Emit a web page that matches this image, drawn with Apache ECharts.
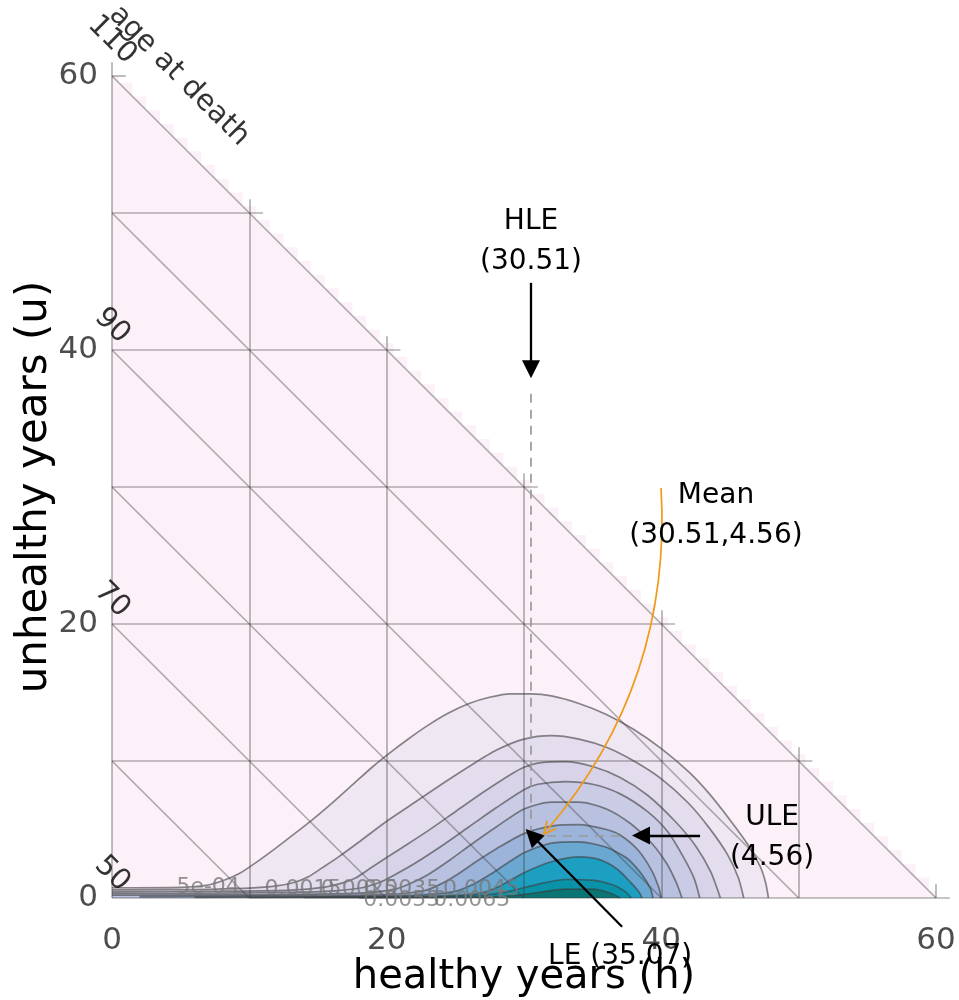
<!DOCTYPE html>
<html><head><meta charset="utf-8">
<script src="https://cdn.jsdelivr.net/npm/echarts@6/dist/echarts.min.js"></script>
<style>html,body{margin:0;padding:0;background:#fff}#c{width:959px;height:1000px}</style>
</head><body><div id="c"></div>
<script>
// ---------- data ----------
const maxYears = 60;
const tickValues = [0, 20, 40, 60];
const gridBreaks = [0, 10, 20, 30, 40, 50, 60];
const ageLines = [10, 20, 30, 40, 50, 60];
const ageLabels = [50, 70, 90, 110];
const ageOffset = 50;

// contour lines of the joint density (h, u), outer -> inner
const contour1 = [[0,0.75],[5,0.78],[7,0.95],[8.3,1.35],[9.3,1.8],[10.5,2.6],[12,3.7],[13.3,4.7],[14.4,5.55],[16,6.9],[17.5,8.25],[19,9.6],[20.3,10.65],[21.7,11.7],[23,12.6],[24.5,13.5],[26,14.2],[27.5,14.65],[29,14.9],[30.5,14.9],[32,14.75],[34,14.2],[36,13.4],[38,12.3],[40,10.9],[42,9.2],[43.5,7.6],[45,5.7],[46.3,3.9],[47.2,2.3],[47.6,1.1],[47.8,0]];
const contour2 = [[0,0.6],[6,0.62],[10,0.72],[12,0.88],[13.3,1.15],[14.3,1.55],[15.3,2.2],[16.5,3.0],[18,4.1],[20,5.6],[22,6.95],[24,8.3],[26,9.6],[28,10.8],[30,11.6],[32,11.85],[34,11.6],[36,11.0],[38,10.0],[40,8.7],[42,6.9],[43.5,5.1],[44.8,3.2],[45.6,1.5],[46,0]];
const contour3 = [[0,0.45],[8,0.5],[13,0.58],[15.5,0.8],[16.8,1.1],[17.8,1.5],[19,2.3],[21,3.6],[23,4.9],[25,6.3],[27,7.7],[29,9.0],[30,9.55],[31,9.85],[33,9.95],[35,9.6],[37,8.8],[39,7.5],[41,5.6],[42.5,3.8],[43.6,1.9],[44.3,0]];
const contour4 = [[0,0.32],[10,0.38],[15.5,0.48],[18.2,0.75],[19.5,1.15],[20.5,1.65],[22,2.5],[24,3.8],[26,5.2],[28,6.6],[30,7.9],[31,8.3],[33,8.5],[35,8.3],[37,7.6],[39,6.3],[40.5,4.8],[41.6,3.0],[42.4,1.4],[42.8,0]];
const contour5 = [[0,0.2],[12,0.25],[18,0.35],[20.6,0.65],[21.8,1.1],[23,1.7],[24.5,2.7],[26,3.8],[28,5.2],[30,6.5],[32,7.0],[34,7.0],[36,6.5],[37.8,5.4],[39.3,4.0],[40.4,2.5],[41.1,1.1],[41.5,0]];
const contour6 = [[2,0.1],[14,0.17],[20,0.25],[22.8,0.55],[24,1.05],[25.2,1.75],[26.5,2.65],[28,3.6],[30,4.7],[32,5.25],[34,5.35],[36,5.0],[37,4.6],[38.3,3.5],[39.3,2.0],[39.8,0.8],[40,0]];
const contour7 = [[6,0.05],[16,0.1],[22,0.2],[24.8,0.45],[26.2,0.95],[27.5,1.7],[28.8,2.55],[30,3.3],[32,4.0],[34,4.1],[36,3.7],[37.5,2.9],[38.6,1.7],[39.2,0.7],[39.4,0]];
const contour8 = [[10,0.03],[18,0.08],[24,0.15],[26.8,0.35],[28.3,0.9],[30,1.85],[32,2.65],[34,3.0],[35.5,2.8],[36.8,2.1],[37.8,1.1],[38.4,0.4],[38.6,0]];
const contour9 = [[14,0.02],[22,0.06],[27,0.2],[29,0.5],[31,1.0],[33,1.35],[35,1.3],[36.5,0.95],[37.4,0.45],[37.8,0]];
const contour10 = [[18,0.01],[25,0.04],[29,0.15],[31,0.4],[33,0.65],[35,0.65],[36.3,0.35],[37,0]];
const contours = [contour1, contour2, contour3, contour4, contour5, contour6, contour7, contour8, contour9, contour10];
const contourFills = ['#efe7f2','#e4ddee','#d8d3e9','#cacbe5','#b8c1df','#9cb4da','#6aa8d1','#1d9fc1','#0a93a8','#0b7474'];

// contour level labels
const levelLabelText = ['5e-04','0.0015','0.0025','0.0035','0.0045','0.0055','0.0065'];
const levelLabelH = [7.0, 13.9, 18.0, 21.1, 26.9, 21.1, 26.2];
const levelLabelU = [0.8, 0.66, 0.66, 0.66, 0.66, -0.15, -0.15];

// summary values
const HLE = 30.51, ULE = 4.56, LE = 35.07;

// ---------- build ----------
const chart = echarts.init(document.getElementById('c'), null, {renderer: 'canvas'});
const FONT = 'DejaVu Sans';
const CLEAR = 'rgba(0,0,0,0)';

const stair = [[0, 0], [0, maxYears]];
for (let i = 0; i <= maxYears; i++) {
  const top = Math.min(maxYears, maxYears + 0.5 - i);
  stair.push([Math.max(0, i - 0.5), top], [Math.min(maxYears, i + 0.5), top]);
}
stair.push([maxYears, 0]);

const gridSegs = [];
gridBreaks.forEach(b => {
  gridSegs.push({coords: [[b, 0], [b, maxYears + 1 - b]]});
  gridSegs.push({coords: [[0, b], [maxYears + 1 - b, b]]});
});
ageLines.forEach(c => gridSegs.push({coords: [[0, c], [c, 0]]}));

const series = [];
series.push({type: 'line', data: stair, symbol: 'none', lineStyle: {width: 0}, areaStyle: {color: '#fcf1f9', opacity: 1}, silent: true, z: 1, animation: false});
contours.forEach((c, i) => series.push({
  type: 'line', data: c, symbol: 'none', smooth: 0.25, z: 2, animation: false, silent: true,
  lineStyle: {color: 'rgba(60,60,60,0.6)', width: 1.7},
  areaStyle: {color: contourFills[i], opacity: 1}
}));
series.push({type: 'lines', coordinateSystem: 'cartesian2d', data: gridSegs, clip: false, z: 3, silent: true, animation: false,
  lineStyle: {color: 'rgba(60,60,60,0.4)', width: 1.7, opacity: 1}});
// dashed guides
series.push({type: 'lines', coordinateSystem: 'cartesian2d', clip: false, z: 4, silent: true, animation: false,
  lineStyle: {color: '#9a9a9a', width: 1.7, type: [9, 7], opacity: 1},
  data: [{coords: [[HLE, 36.8], [HLE, ULE]]}, {coords: [[HLE, ULE], [37.4, ULE]]}]});
const headPath = 'path://M10,0 L20,18 L0,18 Z';
series.push({type: 'lines', coordinateSystem: 'cartesian2d', clip: false, z: 5, silent: true, animation: false,
  symbol: ['none', headPath], symbolSize: [20, 18],
  lineStyle: {color: '#000', width: 2.3, opacity: 1},
  data: [
    {coords: [[HLE, 44.9], [HLE, 38.6]]},
    {coords: [[42.82, ULE], [38.52, ULE]]},
    {coords: [[37.14, -2.1], [30.58, ULE]]}
  ]});
series.push({type: 'lines', coordinateSystem: 'cartesian2d', clip: false, z: 5, silent: true, animation: false,
  symbol: ['none', 'path://M0,14 L7,0 L14,14 L12,14 L7,4 L2,14 Z'], symbolSize: [16, 14],
  lineStyle: {color: '#f09a1a', width: 1.7, curveness: 0.2, opacity: 1},
  data: [{coords: [[39.98, 29.93], [31.68, 4.96]]}]});

function textSeries(data, style, z) {
  return {type: 'scatter', data: data, symbolSize: 2, itemStyle: {color: CLEAR}, clip: false, z: z || 6, silent: true, animation: false,
    label: Object.assign({show: true, position: 'inside', formatter: p => p.value[2], fontFamily: FONT, textBorderWidth: 0, opacity: 1}, style)};
}
series.push(textSeries(levelLabelText.map((t, i) => [levelLabelH[i], levelLabelU[i], t]),
  {color: 'rgba(120,120,120,0.8)', fontSize: 22}));
series.push(textSeries([
  [HLE, 47.9, 'HLE\n(' + HLE.toFixed(2) + ')'],
  [43.98, 27.9, 'Mean\n(' + HLE.toFixed(2) + ',' + ULE.toFixed(2) + ')'],
  [48.06, 4.38, 'ULE\n(' + ULE.toFixed(2) + ')'],
  [37.0, -4.3, 'LE (' + LE.toFixed(2) + ')']
], {color: '#000', fontSize: 28, lineHeight: 40}, 7));
// age at death labels (offset is in the rotated label frame)
const R = Math.SQRT1_2;
function rotOffset(sx, sy) { return [sx * R + sy * R, -sx * R + sy * R]; }
series.push({type: 'scatter', symbolSize: 2, itemStyle: {color: CLEAR}, clip: false, z: 7, silent: true, animation: false,
  data: ageLabels.map(a => ({value: [0, a - ageOffset, String(a)],
    label: {offset: rotOffset(0, -12 * String(a).length)}})).concat([{value: [0, maxYears, 'age at death'], label: {offset: rotOffset(67, 0)}}]),
  label: {show: true, position: 'inside', rotate: -45, formatter: p => p.value[2], fontFamily: FONT, fontSize: 29, color: '#000', textBorderWidth: 0}});

chart.setOption({
  animation: false,
  backgroundColor: '#fff',
  grid: {left: 112, right: 23, top: 76, bottom: 102, containLabel: false, outerBoundsMode: 'none'},
  xAxis: {type: 'value', min: 0, max: maxYears, interval: 20,
    axisLine: {show: false}, axisTick: {show: false}, splitLine: {show: false},
    axisLabel: {fontSize: 31, color: '#4d4d4d', margin: 27, fontFamily: FONT, formatter: v => tickValues.includes(v) ? String(v) : ''},
    name: 'healthy years (h)', nameLocation: 'middle', nameGap: 60, nameMoveOverlap: false,
    nameTextStyle: {fontSize: 40, color: '#000', fontFamily: FONT}},
  yAxis: {type: 'value', min: 0, max: maxYears, interval: 20,
    axisLine: {show: false}, axisTick: {show: false}, splitLine: {show: false},
    axisLabel: {fontSize: 31, color: '#4d4d4d', margin: 14, fontFamily: FONT, formatter: v => tickValues.includes(v) ? String(v) : ''},
    name: 'unhealthy years (u)', nameLocation: 'middle', nameGap: 56, nameMoveOverlap: false,
    nameTextStyle: {fontSize: 42, color: '#000', fontFamily: FONT}},
  series: series
});
</script></body></html>
